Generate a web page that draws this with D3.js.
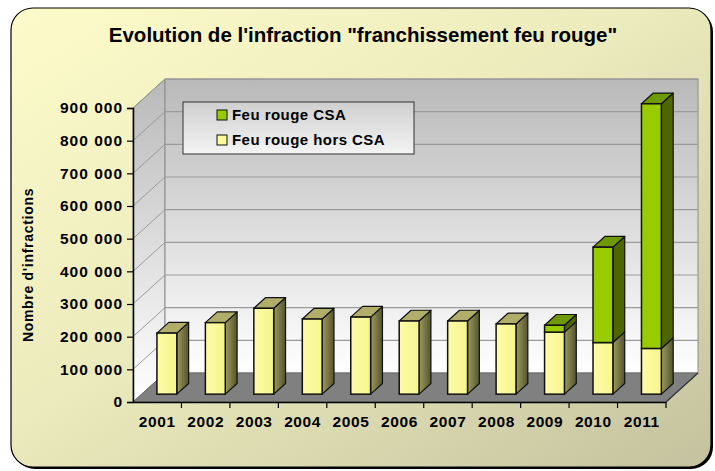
<!DOCTYPE html>
<html>
<head>
<meta charset="utf-8">
<script src="https://cdn.jsdelivr.net/npm/d3@7/dist/d3.min.js"></script>
<style>
  body { margin: 0; background: #fff; }
  svg { display: block; font-family: "Liberation Sans", Arial, sans-serif; font-weight: bold; }
</style>
</head>
<body>
<div id="chart"></div>
<script>
// data
const years = ['2001', '2002', '2003', '2004', '2005', '2006', '2007', '2008', '2009', '2010', '2011'];
const horsCSA = [187000, 219000, 263000, 230000, 236000, 224000, 224000, 215000, 190000, 158000, 140000];
const csa = [0, 0, 0, 0, 0, 0, 0, 0, 21000, 292000, 749000];
const yTicks = [0, 100000, 200000, 300000, 400000, 500000, 600000, 700000, 800000, 900000];
const seriesNames = ['Feu rouge CSA', 'Feu rouge hors CSA'];

const width = 715, height = 471;
const depth = {x: 32, y: -29};     // floor depth offset
const f0 = 0.27, f1 = 0.64;        // bars sit between these depth fractions

const svg = d3.select('#chart').append('svg')
    .attr('width', width)
    .attr('height', height);

const defs = svg.append('defs');

const bgGrad = defs.append('linearGradient').attr('id', 'bg')
    .attr('x1', 0).attr('y1', 0).attr('x2', 1).attr('y2', 1);
bgGrad.append('stop').attr('offset', 0).attr('stop-color', '#fdfbc9');
bgGrad.append('stop').attr('offset', 0.45).attr('stop-color', '#ecebbd');
bgGrad.append('stop').attr('offset', 1).attr('stop-color', '#c4c29e');

const wallGrad = defs.append('linearGradient').attr('id', 'wall')
    .attr('x1', 0).attr('y1', 0).attr('x2', 0).attr('y2', 1);
wallGrad.append('stop').attr('offset', 0).attr('stop-color', '#b9b9b9');
wallGrad.append('stop').attr('offset', 1).attr('stop-color', '#ffffff');

const legGrad = defs.append('linearGradient').attr('id', 'leg')
    .attr('x1', 0).attr('y1', 0).attr('x2', 0).attr('y2', 1);
legGrad.append('stop').attr('offset', 0).attr('stop-color', '#cfcfcf');
legGrad.append('stop').attr('offset', 1).attr('stop-color', '#f4f4f4');

const sideYellow = defs.append('linearGradient').attr('id', 'sideY')
    .attr('x1', 0).attr('y1', 0).attr('x2', 1).attr('y2', 0);
sideYellow.append('stop').attr('offset', 0).attr('stop-color', '#9c9a5c');
sideYellow.append('stop').attr('offset', 1).attr('stop-color', '#55532e');

const frontYellow = defs.append('linearGradient').attr('id', 'frontY')
    .attr('x1', 0).attr('y1', 0).attr('x2', 1).attr('y2', 0);
frontYellow.append('stop').attr('offset', 0).attr('stop-color', '#fdfca8');
frontYellow.append('stop').attr('offset', 1).attr('stop-color', '#f6f58c');

// background panel
svg.append('rect')
    .attr('x', 13).attr('y', 10).attr('width', 700).attr('height', 459)
    .attr('rx', 22).attr('fill', '#000');
svg.append('rect')
    .attr('x', 11).attr('y', 8).attr('width', 700).attr('height', 459)
    .attr('rx', 22).attr('fill', 'url(#bg)')
    .attr('stroke', '#000').attr('stroke-width', 1.2);

svg.append('text')
    .attr('x', 363).attr('y', 42)
    .attr('text-anchor', 'middle')
    .style('font-size', '20.5px')
    .text('Evolution de l\'infraction "franchissement feu rouge"');

const x = d3.scaleBand().domain(years).range([133, 666]);
const y = d3.scaleLinear().domain([0, 900000]).range([402, 108]);

const x0 = x.range()[0], x1 = x.range()[1];
const yTop = y(900000), yBase = y(0);

const plot = svg.append('g');

// left side wall
plot.append('path')
    .attr('d', d3.line()([[x0, yBase], [x0, yTop], [x0 + depth.x, yTop + depth.y], [x0 + depth.x, yBase + depth.y]]) + 'Z')
    .attr('fill', 'url(#wall)')
    .attr('stroke', '#8c8c8c').attr('stroke-width', 1);

// back wall
plot.append('rect')
    .attr('x', x0 + depth.x).attr('y', yTop + depth.y)
    .attr('width', x1 - x0).attr('height', yBase - yTop)
    .attr('fill', 'url(#wall)')
    .attr('stroke', '#8c8c8c').attr('stroke-width', 1);

// gridlines
yTicks.filter(d => d > 0).forEach(v => {
  plot.append('line')
      .attr('x1', x0 + depth.x).attr('x2', x1 + depth.x)
      .attr('y1', y(v) + depth.y).attr('y2', y(v) + depth.y)
      .attr('stroke', '#9a9a9a').attr('stroke-width', 1.2);
  plot.append('line')
      .attr('x1', x0).attr('x2', x0 + depth.x)
      .attr('y1', y(v)).attr('y2', y(v) + depth.y)
      .attr('stroke', '#9a9a9a').attr('stroke-width', 1);
});

// floor
plot.append('path')
    .attr('d', d3.line()([[x0, yBase], [x1, yBase], [x1 + depth.x, yBase + depth.y], [x0 + depth.x, yBase + depth.y]]) + 'Z')
    .attr('fill', '#808080')
    .attr('stroke', '#6a6a6a').attr('stroke-width', 1);

// bars
const bw = x.bandwidth() * 0.41;
const colors = {
  yellow: {front: 'url(#frontY)', side: 'url(#sideY)', top: '#b0ae6a'},
  green: {front: '#99cc00', side: '#4d6600', top: '#6e9900'}
};

function drawBlock(g, cat, v0, v1, c, withTop) {
  const xl = x(cat) + (x.bandwidth() - bw) / 2 + 1;
  const xr = xl + bw;
  const yt = y(v1), yb = y(v0);
  const ax = f0 * depth.x, ay = f0 * depth.y;
  const bx = f1 * depth.x, by = f1 * depth.y;
  g.append('path')
      .attr('d', d3.line()([[xr + ax, yt + ay], [xr + bx, yt + by], [xr + bx, yb + by], [xr + ax, yb + ay]]) + 'Z')
      .attr('fill', c.side).attr('stroke', '#111').attr('stroke-width', 1.2)
      .attr('stroke-linejoin', 'round');
  if (withTop) {
    g.append('path')
        .attr('d', d3.line()([[xl + ax, yt + ay], [xr + ax, yt + ay], [xr + bx, yt + by], [xl + bx, yt + by]]) + 'Z')
        .attr('fill', c.top).attr('stroke', '#111').attr('stroke-width', 1.2)
        .attr('stroke-linejoin', 'round');
  }
  g.append('rect')
      .attr('x', xl + ax).attr('y', yt + ay)
      .attr('width', bw).attr('height', yb - yt)
      .attr('fill', c.front).attr('stroke', '#111').attr('stroke-width', 1.5);
}

const bars = plot.append('g');
years.forEach((cat, i) => {
  const g = bars.append('g');
  drawBlock(g, cat, 0, horsCSA[i], colors.yellow, csa[i] === 0);
  if (csa[i] > 0) drawBlock(g, cat, horsCSA[i], horsCSA[i] + csa[i], colors.green, true);
});

// axes
const yAxis = svg.append('g')
    .attr('transform', `translate(${x0},0)`)
    .call(d3.axisLeft(y).tickValues(yTicks).tickSize(6).tickPadding(4)
      .tickFormat(d => d3.format(',')(d).replace(/,/g, ' ')));
yAxis.select('.domain').attr('stroke', '#000').attr('stroke-width', 1.5);
yAxis.selectAll('.tick line').attr('stroke', '#000').attr('stroke-width', 1.2);
yAxis.selectAll('text').style('font-size', '15.5px').style('letter-spacing', '1px').attr('fill', '#000');

const xAxis = svg.append('g')
    .attr('transform', `translate(0,${yBase})`)
    .call(d3.axisBottom(x).tickSize(0).tickPadding(14));
xAxis.select('.domain').attr('stroke', '#000').attr('stroke-width', 1.5);
xAxis.selectAll('text').style('font-size', '15.5px').style('letter-spacing', '0.6px').attr('fill', '#000');
xAxis.selectAll('.sep')
    .data(years.slice(1).concat(['end']))
    .enter().append('line')
    .attr('x1', (d, i) => x0 + x.step() * (i + 1))
    .attr('x2', (d, i) => x0 + x.step() * (i + 1))
    .attr('y1', 0).attr('y2', 6)
    .attr('stroke', '#000').attr('stroke-width', 1.2);
svg.append('line')
    .attr('x1', x1).attr('y1', yBase).attr('x2', x1 + depth.x).attr('y2', yBase + depth.y)
    .attr('stroke', '#333').attr('stroke-width', 1.2);

svg.append('text')
    .attr('transform', 'translate(33,265) rotate(-90)')
    .attr('text-anchor', 'middle')
    .style('font-size', '14px')
    .style('letter-spacing', '0.7px')
    .text("Nombre d'infractions");

// legend
const legend = svg.append('g').attr('transform', 'translate(183,102)');
legend.append('rect')
    .attr('width', 231).attr('height', 52)
    .attr('fill', 'url(#leg)')
    .attr('stroke', '#333').attr('stroke-width', 1);
const legColors = ['#99cc00', '#fbfa98'];
seriesNames.forEach((name, i) => {
  const item = legend.append('g').attr('transform', `translate(34,${13 + i * 25})`);
  item.append('rect')
      .attr('x', 0).attr('y', -5).attr('width', 10).attr('height', 10)
      .attr('fill', legColors[i]).attr('stroke', '#111').attr('stroke-width', 1);
  item.append('text')
      .attr('x', 15).attr('dy', '0.36em')
      .style('font-size', '15px')
      .style('letter-spacing', '0.45px')
      .text(name);
});
</script>
</body>
</html>
